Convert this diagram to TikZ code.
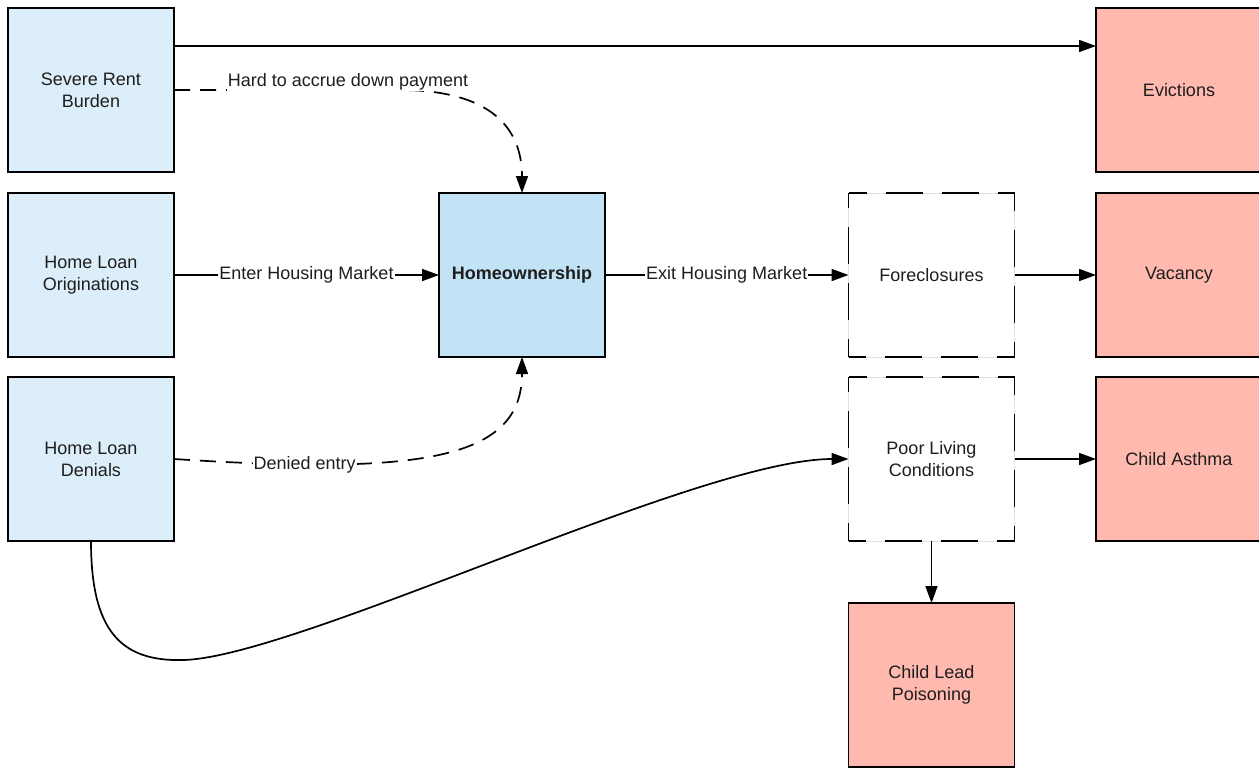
\documentclass[tikz,border=0pt]{standalone}
\usepackage{fontspec}
\setmainfont{Liberation Sans}
\usetikzlibrary{arrows.meta}
\definecolor{lblue}{HTML}{DCEEF9}
\definecolor{mblue}{HTML}{C2E3F5}
\definecolor{lred}{HTML}{FFB9AF}
\definecolor{ink}{HTML}{1E1E1E}
\begin{document}
\begin{tikzpicture}[x=1pt,y=-1pt,
  font=\fontsize{18}{22}\selectfont,
  box/.style={rectangle, minimum width=166pt, minimum height=164pt, inner sep=0pt, outer sep=0pt, align=center, text=ink, line width=1.8pt},
  bluebox/.style={box, draw=black, fill=lblue},
  homebox/.style={box, draw=black, fill=mblue, font=\fontsize{18}{22}\selectfont\bfseries},
  redbox/.style={box, draw=black, fill=lred},
  ghostbox/.style={box, draw=black!12, line width=0.8pt, fill=white},
  sidedash/.style={line width=1.8pt, dash pattern=on 37pt off 19pt, dash phase=19pt},
  edge/.style={line width=1.7pt, -{Triangle[length=17pt,width=12pt]}},
  dedge/.style={edge, dash pattern=on 16pt off 10pt},
  lbl/.style={fill=white, inner sep=1pt, text=ink}
]
\useasboundingbox (0,0) rectangle (1259,774);
\clip (0,0) rectangle (1259,774);

% nodes
\node[bluebox] (srb) at (91,90) {Severe Rent\\Burden};
\node[bluebox] (hlo) at (91,275) {Home Loan\\Originations};
\node[bluebox] (hld) at (91,459) {Home Loan\\Denials};
\node[homebox] (home) at (522,275) {Homeownership};
\node[ghostbox] (fore) at (931.5,275) {Foreclosures};
\node[ghostbox] (plc) at (931.5,459) {Poor Living\\Conditions};
\node[redbox] (evic) at (1179,90) {Evictions};
\node[redbox] (vac) at (1179,275) {Vacancy};
\node[redbox] (asth) at (1179,459) {Child Asthma};
\node[redbox] (lead) at (931.5,685) {Child Lead\\Poisoning};

% dashed borders
\foreach \n in {fore,plc}{
  \draw[sidedash] (\n.north west) -- (\n.north east);
  \draw[sidedash] (\n.north east) -- (\n.south east);
  \draw[sidedash] (\n.south east) -- (\n.south west);
  \draw[sidedash] (\n.south west) -- (\n.north west);
}

% connectors
\draw[edge] ([yshift=44pt]srb.east) -- ([yshift=44pt]evic.west);
\draw[edge] (hlo) -- node[lbl]{Enter Housing Market} (home);
\draw[edge] (home) -- node[lbl]{Exit Housing Market} (fore);
\draw[edge] (fore) -- (vac);
\draw[edge] (plc) -- (asth);
\draw[edge] (plc) -- (lead);

\draw[dedge] (srb.east) -- ++(226,0) node[lbl, pos=0.77, yshift=8pt]{Hard to accrue down payment}
  .. controls +(80,0) and +(0,-73) .. (home.north);
\draw[dedge] (hld.east) .. controls +(246,16) and +(0,103) .. (home.south)
  node[lbl, pos=0.2]{Denied entry};

\coordinate (dip) at (184,660);
\draw[edge] (hld.south) .. controls +(0,89) and +(-64,2) .. (dip)
  .. controls +(116,-4) and +(-149,0) .. (plc.west);
\end{tikzpicture}
\end{document}
